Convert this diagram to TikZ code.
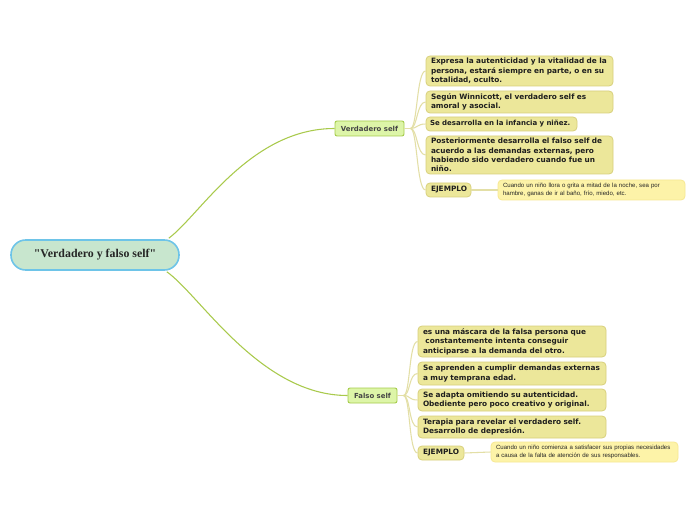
\documentclass[tikz,border=0pt]{standalone}
\usepackage{fontspec}
\setmainfont{DejaVu Sans}
\newfontfamily\rootfont{Liberation Serif}
\newfontfamily\smallfont{Liberation Sans}
\usetikzlibrary{calc}
\definecolor{rootfill}{HTML}{C8E6CE}
\definecolor{rootdraw}{HTML}{6EC4E8}
\definecolor{brfill}{HTML}{DDF5A8}
\definecolor{brdraw}{HTML}{A6CC4C}
\definecolor{chfill}{HTML}{ECE79A}
\definecolor{chdraw}{HTML}{D8D07C}
\definecolor{exfill}{HTML}{FDF3A8}
\definecolor{exdraw}{HTML}{F7E892}
\definecolor{brline}{HTML}{A9CA4C}
\definecolor{chline}{HTML}{E3DFA6}
\definecolor{chtext}{HTML}{1E1E1E}
\definecolor{brtext}{HTML}{454545}
\tikzset{
  rootbox/.style={draw=rootdraw, line width=1.2pt, fill=rootfill, rounded corners=11pt,
    inner sep=0pt, minimum width=126pt, minimum height=22.5pt,
    font=\rootfont\bfseries\fontsize{8.9pt}{10pt}\selectfont, text=black!85},
  brbox/.style={draw=brdraw, line width=0.7pt, fill=brfill, rounded corners=1.5pt,
    inner sep=0pt, minimum height=11.25pt,
    font=\bfseries\fontsize{5.2pt}{6pt}\selectfont, text=brtext},
  chbox/.style={draw=chdraw, line width=0.6pt, fill=chfill, rounded corners=3pt,
    inner xsep=3.75pt, inner ysep=0pt, align=left,
    font=\bfseries\fontsize{5.5pt}{7pt}\selectfont, text=chtext},
  exbox/.style={draw=exdraw, line width=0.6pt, fill=exfill, rounded corners=3pt,
    inner xsep=3.75pt, inner ysep=0pt, align=left,
    font=\smallfont\fontsize{4.55pt}{6pt}\selectfont, text=black!85},
  brcon/.style={draw=brline, line width=0.8pt},
  chcon/.style={draw=chline, line width=0.8pt},
}
\begin{document}
\begin{tikzpicture}[x=0.75pt,y=-0.75pt]
\useasboundingbox (0,0) rectangle (696,520);
\fill[white] (0,0) rectangle (696,520);

\node[rootbox] (r) at (95,255) {"Verdadero y falso self"};
\node[brbox, minimum width=51.75pt] (v) at (369.5,128.5) {Verdadero self};
\node[brbox, minimum width=36.75pt] (f) at (372.5,395.5) {Falso self};

\node[chbox, text width=132.75pt, minimum height=22.5pt] (v1) at (519.5,71)
  {Expresa la autenticidad y la vitalidad de la\\persona, estará siempre en parte, o en su\\totalidad, oculto.};
\node[chbox, text width=132.75pt, minimum height=16.5pt] (v2) at (519.5,102)
  {Según Winnicott, el verdadero self es\\amoral y asocial.};
\node[chbox, inner xsep=3pt, text width=107.25pt, minimum height=10.5pt,
  font=\bfseries\fontsize{5.25pt}{7pt}\selectfont] (v3) at (501.5,124)
  {Se desarrolla en la infancia y niñez.};
\node[chbox, text width=132.75pt, minimum height=28.5pt] (v4) at (519.5,155)
  {Posteriormente desarrolla el falso self de\\acuerdo a las demandas externas, pero\\habiendo sido verdadero cuando fue un\\niño.};
\node[chbox, text width=26.25pt, minimum height=10.5pt] (v5) at (448.5,190) {EJEMPLO};
\node[exbox, text width=132.75pt, minimum height=15pt] (ve) at (591.5,190)
  {Cuando un niño llora o grita a mitad de la noche, sea por\\hambre, ganas de ir al baño, frío, miedo, etc.};

\node[chbox, text width=133.5pt, minimum height=23.25pt] (f1) at (512,341.5)
  {es una máscara de la falsa persona que\\\ constantemente intenta conseguir\\anticiparse a la demanda del otro.};
\node[chbox, text width=133.5pt, minimum height=17.25pt] (f2) at (512,373.5)
  {Se aprenden a cumplir demandas externas\\a muy temprana edad.};
\node[chbox, text width=133.5pt, minimum height=16.5pt] (f3) at (512,400)
  {Se adapta omitiendo su autenticidad.\\Obediente pero poco creativo y original.};
\node[chbox, text width=133.5pt, minimum height=16.5pt] (f4) at (512,427)
  {Terapia para revelar el verdadero self.\\Desarrollo de depresión.};
\node[chbox, text width=27pt, minimum height=10.5pt] (f5) at (441,453) {EJEMPLO};
\node[exbox, text width=132.75pt, minimum height=15pt] (fe) at (584.5,452)
  {Cuando un niño comienza a satisfacer sus propias necesidades\\a causa de la falta de atención de sus responsables.};

% main branches
\draw[brcon] ($(r.north east)+(-11,-1)$) .. controls (200,215) and (250,128.5) .. (v.west);
\draw[brcon] ($(r.south east)+(-13,1)$) .. controls (200,295) and (260,395.5) .. (f.west);

% verdadero children
\coordinate (vs) at ($(v.east)+(6,0)$);
\draw[chcon] (v.east) -- (vs);
\foreach \c in {v1,v2,v3,v4,v5}{
  \draw[chcon] (vs) .. controls ($(vs)+(7,0)$) and ($(\c.west)+(-9,0)$) .. (\c.west);
}
\draw[chcon] (v5.east) -- (ve.west);

% falso children
\coordinate (fs) at ($(f.east)+(6,0)$);
\draw[chcon] (f.east) -- (fs);
\foreach \c in {f1,f2,f3,f4,f5}{
  \draw[chcon] (fs) .. controls ($(fs)+(7,0)$) and ($(\c.west)+(-9,0)$) .. (\c.west);
}
\draw[chcon] (f5.east) -- (fe.west);
\end{tikzpicture}
\end{document}
